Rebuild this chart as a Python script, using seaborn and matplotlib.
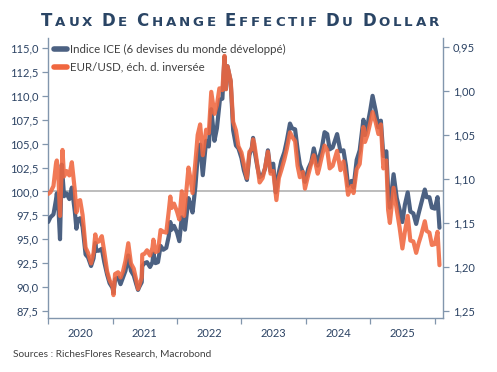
import matplotlib
matplotlib.use("Agg")
import matplotlib.pyplot as plt
import matplotlib.dates as mdates
import matplotlib.ticker as mticker
from matplotlib.lines import Line2D
import seaborn as sns
import pandas as pd

# ---------------- data ----------------
ice_dates = [
    "2020-01-02", "2020-01-15", "2020-02-01", "2020-02-15", "2020-02-20", "2020-03-01", "2020-03-09",
    "2020-03-19", "2020-04-01", "2020-04-15", "2020-05-01", "2020-05-15", "2020-06-01", "2020-06-10",
    "2020-06-15", "2020-07-01", "2020-07-15", "2020-08-01", "2020-08-15", "2020-09-01", "2020-09-15",
    "2020-09-25", "2020-10-01", "2020-10-15", "2020-11-01", "2020-11-15", "2020-12-01", "2020-12-15",
    "2021-01-01", "2021-01-06", "2021-01-15", "2021-02-01", "2021-02-15", "2021-03-01", "2021-03-15",
    "2021-03-31", "2021-04-15", "2021-05-01", "2021-05-15", "2021-05-25", "2021-06-01", "2021-06-15",
    "2021-06-18", "2021-07-01", "2021-07-15", "2021-08-01", "2021-08-15", "2021-08-20", "2021-09-01",
    "2021-09-15", "2021-09-30", "2021-10-15", "2021-11-01", "2021-11-15", "2021-11-24", "2021-12-01",
    "2021-12-15", "2022-01-01", "2022-01-14", "2022-01-28", "2022-02-15", "2022-03-07", "2022-03-15",
    "2022-03-30", "2022-04-15", "2022-04-28", "2022-05-12", "2022-05-27", "2022-06-15", "2022-06-30",
    "2022-07-14", "2022-08-01", "2022-08-15", "2022-09-01", "2022-09-15", "2022-09-27", "2022-10-05",
    "2022-10-14", "2022-11-01", "2022-11-15", "2022-12-01", "2022-12-15", "2023-01-01", "2023-01-15",
    "2023-02-01", "2023-02-15", "2023-03-01", "2023-03-08", "2023-03-15", "2023-04-01", "2023-04-14",
    "2023-05-01", "2023-05-15", "2023-05-31", "2023-06-15", "2023-06-30", "2023-07-14", "2023-08-01",
    "2023-08-15", "2023-09-01", "2023-09-15", "2023-10-03", "2023-10-15", "2023-11-01", "2023-11-15",
    "2023-11-28", "2023-12-15", "2023-12-27", "2024-01-15", "2024-02-01", "2024-02-15", "2024-03-08",
    "2024-03-15", "2024-04-01", "2024-04-16", "2024-05-01", "2024-05-15", "2024-06-01", "2024-06-26",
    "2024-07-15", "2024-08-01", "2024-08-15", "2024-08-27", "2024-09-15", "2024-09-27", "2024-10-15",
    "2024-11-01", "2024-11-22", "2024-12-01", "2024-12-15", "2024-12-31", "2025-01-13", "2025-01-31",
    "2025-02-15", "2025-03-01", "2025-03-15", "2025-04-01", "2025-04-11", "2025-04-21", "2025-05-12",
    "2025-05-30", "2025-06-15", "2025-07-01", "2025-07-15", "2025-07-31", "2025-08-15", "2025-09-01",
    "2025-09-17", "2025-10-01", "2025-10-15", "2025-11-05", "2025-11-15", "2025-12-01", "2025-12-15",
    "2026-01-01", "2026-01-16", "2026-01-27",
]
ice_values = [
    96.8, 97.3, 97.6, 99.1, 99.8, 98.0, 95.0,
    102.8, 99.5, 99.8, 99.2, 100.4, 97.9, 96.1,
    97.0, 97.2, 96.3, 93.4, 93.1, 92.2, 93.0,
    94.6, 93.8, 93.8, 94.0, 92.6, 91.3, 90.4,
    89.9, 89.4, 90.8, 91.0, 90.3, 91.0, 91.7,
    93.3, 91.7, 91.2, 90.3, 89.7, 90.0, 90.5,
    92.2, 92.5, 92.6, 92.1, 92.6, 93.5, 92.5,
    92.6, 94.3, 93.9, 94.1, 95.3, 96.8, 96.0,
    96.4, 95.7, 94.8, 97.3, 96.0, 99.3, 98.8,
    97.8, 100.5, 103.6, 104.9, 101.7, 105.3, 104.7,
    108.6, 105.3, 106.6, 109.6, 109.7, 114.1, 110.7,
    113.1, 111.5, 106.4, 104.8, 104.5, 103.5, 102.2,
    101.2, 103.8, 104.6, 105.6, 104.4, 102.6, 101.5,
    101.7, 102.4, 104.3, 102.1, 102.9, 99.9, 102.0,
    103.2, 104.1, 105.3, 107.1, 106.6, 106.5, 104.4,
    102.8, 102.0, 101.0, 102.4, 103.1, 104.5, 102.7,
    103.4, 104.6, 106.2, 106.0, 104.4, 104.6, 106.0,
    104.2, 104.3, 102.7, 100.6, 101.1, 100.4, 103.3,
    104.3, 107.5, 105.9, 106.9, 108.5, 110.0, 108.4,
    106.7, 107.4, 103.7, 104.2, 100.1, 98.3, 101.8,
    99.3, 98.1, 96.8, 98.6, 99.9, 97.9, 97.7,
    96.6, 97.7, 98.7, 100.2, 99.4, 99.4, 98.3,
    98.2, 99.4, 96.2,
]

eur_dates = [
    "2020-01-02", "2020-01-15", "2020-02-01", "2020-02-15", "2020-02-20", "2020-03-01", "2020-03-09",
    "2020-03-23", "2020-04-01", "2020-04-15", "2020-05-01", "2020-05-15", "2020-06-01", "2020-06-10",
    "2020-06-15", "2020-07-01", "2020-07-15", "2020-08-01", "2020-08-15", "2020-09-01", "2020-09-15",
    "2020-09-25", "2020-10-01", "2020-10-15", "2020-11-01", "2020-11-15", "2020-12-01", "2020-12-15",
    "2021-01-01", "2021-01-06", "2021-01-15", "2021-02-01", "2021-02-15", "2021-03-01", "2021-03-15",
    "2021-03-31", "2021-04-15", "2021-05-01", "2021-05-15", "2021-05-25", "2021-06-01", "2021-06-15",
    "2021-06-18", "2021-07-01", "2021-07-15", "2021-08-01", "2021-08-15", "2021-08-20", "2021-09-01",
    "2021-09-15", "2021-09-30", "2021-10-15", "2021-11-01", "2021-11-15", "2021-11-24", "2021-12-01",
    "2021-12-15", "2022-01-01", "2022-01-14", "2022-01-28", "2022-02-10", "2022-03-07", "2022-03-15",
    "2022-03-30", "2022-04-15", "2022-04-28", "2022-05-12", "2022-05-27", "2022-06-15", "2022-06-30",
    "2022-07-14", "2022-08-01", "2022-08-15", "2022-08-29", "2022-09-15", "2022-09-27", "2022-10-05",
    "2022-10-14", "2022-11-01", "2022-11-15", "2022-12-01", "2022-12-15", "2023-01-01", "2023-01-15",
    "2023-02-01", "2023-02-15", "2023-03-01", "2023-03-08", "2023-03-15", "2023-04-01", "2023-04-14",
    "2023-05-01", "2023-05-15", "2023-05-31", "2023-06-15", "2023-06-30", "2023-07-18", "2023-08-01",
    "2023-08-15", "2023-09-01", "2023-09-15", "2023-10-03", "2023-10-15", "2023-11-01", "2023-11-15",
    "2023-11-28", "2023-12-15", "2023-12-27", "2024-01-15", "2024-02-01", "2024-02-15", "2024-03-08",
    "2024-03-15", "2024-04-01", "2024-04-16", "2024-05-01", "2024-05-15", "2024-06-01", "2024-06-26",
    "2024-07-15", "2024-08-01", "2024-08-15", "2024-08-27", "2024-09-15", "2024-09-27", "2024-10-15",
    "2024-11-01", "2024-11-22", "2024-12-01", "2024-12-15", "2024-12-31", "2025-01-13", "2025-01-31",
    "2025-02-15", "2025-03-01", "2025-03-15", "2025-04-01", "2025-04-11", "2025-04-21", "2025-05-12",
    "2025-05-30", "2025-06-15", "2025-07-01", "2025-07-15", "2025-07-31", "2025-08-15", "2025-09-01",
    "2025-09-17", "2025-10-01", "2025-10-15", "2025-11-05", "2025-11-15", "2025-12-01", "2025-12-15",
    "2026-01-01", "2026-01-16", "2026-01-27",
]
eur_values = [
    1.117, 1.115, 1.108, 1.083, 1.079, 1.102, 1.142,
    1.067, 1.097, 1.091, 1.096, 1.081, 1.113, 1.138,
    1.126, 1.124, 1.141, 1.178, 1.184, 1.196, 1.184,
    1.163, 1.172, 1.171, 1.165, 1.183, 1.205, 1.215,
    1.222, 1.232, 1.208, 1.206, 1.212, 1.205, 1.193,
    1.173, 1.196, 1.202, 1.215, 1.225, 1.221, 1.212,
    1.186, 1.185, 1.181, 1.187, 1.178, 1.169, 1.183,
    1.182, 1.158, 1.160, 1.161, 1.137, 1.120, 1.133,
    1.128, 1.137, 1.146, 1.114, 1.142, 1.087, 1.096,
    1.116, 1.081, 1.050, 1.038, 1.073, 1.044, 1.048,
    1.001, 1.026, 1.016, 0.997, 0.999, 0.960, 0.998,
    0.972, 0.988, 1.035, 1.045, 1.063, 1.070, 1.083,
    1.099, 1.069, 1.066, 1.055, 1.060, 1.084, 1.104,
    1.099, 1.087, 1.069, 1.094, 1.091, 1.124, 1.099,
    1.090, 1.078, 1.066, 1.047, 1.052, 1.057, 1.085,
    1.098, 1.092, 1.111, 1.095, 1.082, 1.073, 1.094,
    1.089, 1.074, 1.062, 1.067, 1.088, 1.085, 1.068,
    1.090, 1.080, 1.098, 1.118, 1.108, 1.116, 1.089,
    1.083, 1.041, 1.058, 1.050, 1.036, 1.024, 1.036,
    1.049, 1.038, 1.088, 1.079, 1.135, 1.150, 1.110,
    1.135, 1.155, 1.179, 1.160, 1.142, 1.170, 1.171,
    1.184, 1.173, 1.164, 1.148, 1.159, 1.161, 1.175,
    1.174, 1.160, 1.198,
]

year_labels = ["2020", "2021", "2022", "2023", "2024", "2025"]
left_ticks = [87.5, 90.0, 92.5, 95.0, 97.5, 100.0, 102.5, 105.0, 107.5, 110.0, 112.5, 115.0]
right_ticks = [0.95, 1.00, 1.05, 1.10, 1.15, 1.20, 1.25]
series_labels = ["Indice ICE (6 devises du monde développé)", "EUR/USD, éch. d. inversée"]
title_text = "Taux de change effectif du dollar"
source_text = "Sources : RichesFlores Research, Macrobond"

# ---------------- style ----------------
BLUE = "#4c6182"
ORANGE = "#f0673f"
NAVY = "#2b4263"
SPINE = "#8296ad"
GREY_TXT = "#404040"

sns.set_theme(style="ticks")
plt.rcParams["font.family"] = ["Lato", "DejaVu Sans"]

W, H = 497, 372
fig = plt.figure(figsize=(W / 100, H / 100), dpi=100)
ax = fig.add_axes([48 / W, 1 - 318 / H, (443 - 48) / W, (318 - 38) / H])
ax2 = ax.twinx()

ice = pd.DataFrame({"date": pd.to_datetime(ice_dates), "value": ice_values})
eur = pd.DataFrame({"date": pd.to_datetime(eur_dates), "value": eur_values})

ax.axhline(100, color="#b8b8b8", lw=1.3, zorder=1)
sns.lineplot(data=ice, x="date", y="value", ax=ax, color=BLUE, linewidth=3.0, zorder=3)
sns.lineplot(data=eur, x="date", y="value", ax=ax2, color=ORANGE, linewidth=3.0, alpha=0.88, zorder=3)

ax.set_xlim(pd.Timestamp("2020-01-01"), pd.Timestamp("2026-02-16"))
ax.set_ylim(86.76, 116.05)
ax2.set_ylim(1.258, 0.9398)

for a in (ax, ax2):
    a.set_xlabel("")
    a.set_ylabel("")

ax.set_yticks(left_ticks)
ax.yaxis.set_major_formatter(mticker.FuncFormatter(lambda v, _: f"{v:.1f}".replace(".", ",")))
ax2.set_yticks(right_ticks)
ax2.yaxis.set_major_formatter(mticker.FuncFormatter(lambda v, _: f"{v:.2f}".replace(".", ",")))

mid_years = [mdates.date2num(pd.Timestamp(f"{y}-07-01")) for y in year_labels]
ax.xaxis.set_major_locator(mticker.FixedLocator(mid_years))
ax.xaxis.set_major_formatter(mticker.FixedFormatter(year_labels))
ax.xaxis.set_minor_locator(mdates.YearLocator())
ax.tick_params(axis="x", which="major", length=0, pad=7, labelsize=8, labelcolor=NAVY)
ax.tick_params(axis="x", which="minor", length=4, width=0.9, color=SPINE, direction="out")
ax.tick_params(axis="y", which="major", left=True, length=4, width=0.9, color=SPINE,
               pad=3, labelsize=8, labelcolor=NAVY)
ax2.tick_params(axis="y", which="major", right=True, length=4, width=0.9, color=SPINE,
                pad=3, labelsize=8, labelcolor=NAVY)

for a in (ax, ax2):
    a.spines["top"].set_visible(False)
ax.spines["right"].set_visible(False)
ax2.spines["left"].set_visible(False)
ax2.spines["bottom"].set_visible(False)
for s in (ax.spines["left"], ax.spines["bottom"], ax2.spines["right"]):
    s.set_color(SPINE)
    s.set_linewidth(1.0)

handles = [Line2D([], [], color=BLUE, lw=4), Line2D([], [], color=ORANGE, lw=4)]
ax2.legend(handles, series_labels, loc="upper left", bbox_to_anchor=(0.0, 1.0),
           frameon=False, fontsize=8.3, labelcolor=GREY_TXT, handlelength=1.1,
           handletextpad=0.3, labelspacing=0.55, borderaxespad=0.25, borderpad=0.3)

# ---------------- small-caps title ----------------
def small_caps(text, x0, x1, y_base, big, small, color, space_px):
    renderer = fig.canvas.get_renderer()
    words = text.split()
    items = []
    for w in words:
        row = []
        for i, ch in enumerate(w):
            size = big if i == 0 else small
            t = fig.text(0, 0, ch.upper(), fontsize=size, color=color, fontweight="bold",
                         family="DejaVu Sans", va="baseline", ha="left")
            wpx = t.get_window_extent(renderer).width
            row.append((t, wpx))
        items.append(row)
    total_letters = sum(wpx for row in items for _, wpx in row)
    n_gaps = sum(len(row) - 1 for row in items)
    free = (x1 - x0) - total_letters - space_px * (len(items) - 1)
    track = free / n_gaps if n_gaps else 0
    x = x0
    for wi, row in enumerate(items):
        for ci, (t, wpx) in enumerate(row):
            t.set_position((x / W, 1 - y_base / H))
            x += wpx
            if ci < len(row) - 1:
                x += track
        x += space_px

small_caps(title_text, 41, 439, 26, 12.0, 9.6, "#2a4565", 9)

fig.text(13 / W, 1 - 354 / H, source_text, fontsize=7.3, color=GREY_TXT, va="center", ha="left")

fig.savefig("out.png", dpi=100)
